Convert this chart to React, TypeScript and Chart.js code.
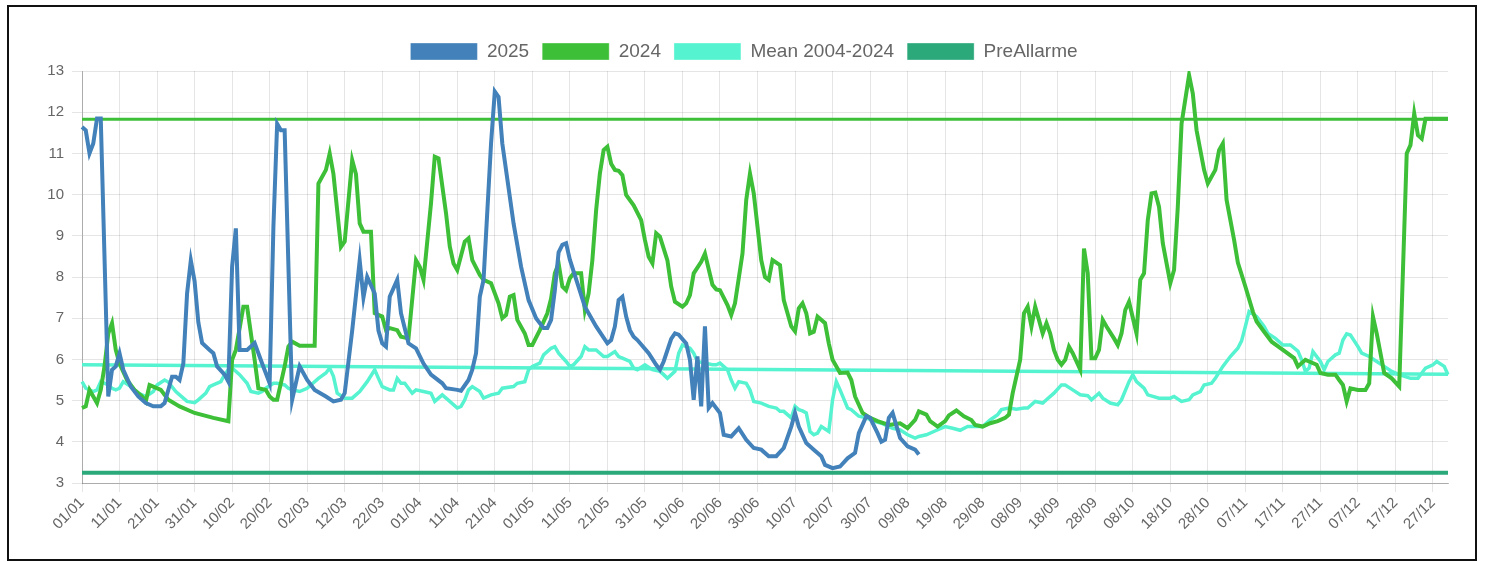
import React, { useEffect, useRef } from "react";
import { Chart, registerables } from "chart.js";

Chart.register(...registerables);

// ---- X categories: every day of a non-leap year, dd/mm ----
const MONTH_LENGTHS = [31, 28, 31, 30, 31, 30, 31, 31, 30, 31, 30, 31];
const dayLabels: string[] = [];
MONTH_LENGTHS.forEach((len, m) => {
  for (let d = 1; d <= len; d++) {
    dayLabels.push(String(d).padStart(2, "0") + "/" + String(m + 1).padStart(2, "0"));
  }
});

// ---- Y ticks ----
const Y_MIN = 3;
const Y_MAX = 13;

// ---- 2025 (day index, value) ----
const days2025 = [0, 1, 2, 3, 4, 5, 7, 8, 9, 10, 11, 13, 15, 17, 19, 21, 22, 24, 25, 26, 27, 28, 29, 30, 31, 32, 34, 35, 36, 38, 39, 40, 41, 42, 44, 46, 48, 50, 51, 52, 53, 54, 56, 58, 60, 62, 65, 67, 69, 70, 72, 74, 75, 76, 78, 79, 80, 81, 82, 84, 85, 87, 89, 91, 93, 96, 97, 100, 101, 103, 104, 105, 106, 107, 109, 110, 111, 112, 114, 115, 117, 119, 121, 123, 124, 125, 126, 127, 128, 129, 130, 132, 134, 137, 140, 141, 142, 143, 144, 145, 146, 147, 148, 151, 153, 154, 155, 157, 158, 159, 161, 162, 163, 164, 165, 166, 167, 168, 170, 171, 173, 175, 177, 179, 181, 183, 185, 187, 189, 190, 191, 193, 195, 197, 198, 200, 202, 204, 206, 207, 209, 210, 212, 213, 214, 215, 216, 218, 220, 222, 223];
const level2025 = [11.64, 11.56, 11.0, 11.24, 11.85, 11.85, 5.1, 5.75, 5.83, 6.15, 5.75, 5.34, 5.1, 4.94, 4.86, 4.86, 4.94, 5.58, 5.58, 5.5, 5.9, 7.6, 8.4, 7.9, 6.9, 6.4, 6.23, 6.15, 5.83, 5.63, 5.46, 8.25, 9.18, 6.23, 6.23, 6.4, 5.9, 5.42, 9.2, 11.72, 11.56, 11.56, 5.02, 5.83, 5.5, 5.26, 5.1, 4.98, 5.02, 5.18, 6.7, 8.4, 7.5, 8.0, 7.6, 6.7, 6.39, 6.31, 7.52, 7.93, 7.12, 6.39, 6.27, 5.9, 5.63, 5.42, 5.3, 5.26, 5.24, 5.5, 5.75, 6.15, 7.52, 7.93, 11.24, 12.5, 12.37, 11.24, 9.95, 9.3, 8.25, 7.44, 7.0, 6.76, 6.76, 6.96, 7.68, 8.6, 8.78, 8.82, 8.42, 7.85, 7.28, 6.8, 6.39, 6.47, 6.8, 7.44, 7.52, 7.04, 6.71, 6.55, 6.47, 6.15, 5.87, 5.75, 5.95, 6.5, 6.63, 6.6, 6.39, 5.99, 5.02, 6.07, 4.86, 6.8, 4.82, 4.94, 4.7, 4.17, 4.13, 4.33, 4.05, 3.85, 3.81, 3.65, 3.65, 3.85, 4.37, 4.7, 4.37, 3.97, 3.81, 3.65, 3.44, 3.36, 3.4, 3.6, 3.73, 4.21, 4.62, 4.58, 4.21, 4.0, 4.05, 4.58, 4.7, 4.09, 3.89, 3.81, 3.69];

// ---- 2024 (day index, value) ----
const days2024 = [0, 1, 2, 3, 4, 5, 6, 7, 8, 9, 10, 12, 14, 16, 17, 18, 19, 21, 23, 26, 30, 35, 39, 40, 41, 43, 44, 46, 47, 49, 50, 51, 52, 54, 55, 56, 58, 62, 63, 65, 66, 67, 69, 70, 72, 73, 74, 75, 77, 78, 80, 81, 82, 84, 85, 87, 89, 90, 91, 93, 94, 95, 97, 98, 99, 100, 102, 103, 104, 106, 107, 109, 111, 112, 113, 114, 115, 116, 118, 119, 120, 122, 124, 125, 126, 127, 128, 129, 130, 131, 133, 134, 135, 136, 137, 138, 139, 140, 141, 142, 143, 144, 145, 147, 149, 150, 151, 152, 153, 154, 156, 157, 158, 160, 161, 162, 163, 165, 166, 168, 169, 170, 172, 173, 174, 176, 177, 178, 179, 181, 182, 183, 184, 186, 187, 189, 190, 191, 192, 193, 194, 195, 196, 198, 199, 200, 202, 204, 205, 206, 208, 210, 212, 215, 218, 220, 222, 223, 225, 226, 228, 230, 231, 233, 235, 237, 238, 240, 242, 244, 246, 247, 248, 250, 251, 252, 253, 254, 255, 256, 257, 258, 259, 260, 261, 262, 263, 264, 266, 267, 268, 269, 270, 271, 272, 273, 275, 276, 277, 278, 279, 281, 282, 283, 284, 285, 286, 287, 288, 290, 291, 292, 293, 295, 296, 297, 299, 300, 302, 303, 304, 305, 307, 308, 310, 312, 313, 315, 317, 320, 323, 324, 326, 327, 329, 330, 332, 334, 335, 336, 337, 338, 340, 342, 343, 344, 345, 346, 347, 349, 351, 353, 354, 355, 356, 357, 358, 364];
const level2024 = [4.82, 4.86, 5.26, 5.1, 4.94, 5.26, 5.83, 6.63, 6.88, 6.23, 5.9, 5.5, 5.26, 5.1, 4.98, 5.38, 5.34, 5.26, 5.02, 4.86, 4.7, 4.58, 4.5, 5.99, 6.23, 7.28, 7.28, 5.99, 5.3, 5.26, 5.1, 5.02, 5.02, 5.83, 6.31, 6.43, 6.33, 6.33, 10.27, 10.6, 11.0, 10.5, 8.73, 8.86, 10.84, 10.5, 9.3, 9.1, 9.1, 7.12, 7.04, 6.71, 6.76, 6.71, 6.55, 6.51, 8.41, 8.25, 7.93, 9.79, 10.92, 10.88, 9.55, 8.74, 8.33, 8.17, 8.86, 8.94, 8.41, 8.05, 7.93, 7.85, 7.36, 7.0, 7.08, 7.52, 7.56, 6.96, 6.63, 6.35, 6.35, 6.71, 7.12, 7.48, 8.09, 8.33, 7.77, 7.68, 7.97, 8.09, 8.09, 7.2, 7.6, 8.41, 9.62, 10.51, 11.08, 11.16, 10.75, 10.6, 10.58, 10.47, 9.99, 9.74, 9.38, 8.9, 8.49, 8.33, 9.06, 8.98, 8.4, 7.77, 7.4, 7.28, 7.36, 7.56, 8.09, 8.37, 8.57, 7.81, 7.7, 7.68, 7.32, 7.08, 7.36, 8.57, 9.87, 10.51, 10.03, 8.41, 8.0, 7.93, 8.41, 8.29, 7.44, 6.8, 6.68, 7.24, 7.36, 7.12, 6.63, 6.67, 7.04, 6.88, 6.39, 5.99, 5.67, 5.68, 5.5, 5.1, 4.7, 4.58, 4.5, 4.41, 4.45, 4.33, 4.53, 4.74, 4.66, 4.5, 4.37, 4.5, 4.64, 4.76, 4.62, 4.53, 4.41, 4.37, 4.45, 4.5, 4.58, 4.66, 5.18, 5.99, 7.12, 7.28, 6.8, 7.28, 6.96, 6.63, 6.88, 6.63, 6.23, 5.99, 5.87, 5.99, 6.31, 6.15, 5.75, 8.69, 8.09, 6.03, 6.03, 6.23, 6.96, 6.8, 6.51, 6.35, 6.63, 7.2, 7.4, 6.63, 7.93, 8.09, 9.38, 10.03, 10.05, 9.7, 8.82, 7.85, 8.17, 9.7, 11.72, 12.9, 12.45, 11.56, 10.6, 10.27, 10.6, 11.08, 11.24, 9.87, 8.9, 8.35, 7.77, 7.16, 6.92, 6.67, 6.43, 6.23, 6.03, 5.83, 5.99, 5.95, 5.87, 5.67, 5.63, 5.63, 5.5, 5.38, 4.98, 5.3, 5.26, 5.26, 5.42, 7.04, 6.63, 6.15, 5.67, 5.54, 5.34, 11.0, 11.2, 11.97, 11.44, 11.36, 11.84, 11.84];

// ---- Mean 2004-2024 (day index, value) ----
const daysMean = [0, 1, 3, 4, 5, 7, 8, 9, 10, 11, 13, 15, 17, 19, 20, 22, 23, 25, 27, 28, 30, 31, 33, 34, 35, 37, 38, 39, 40, 42, 44, 45, 47, 48, 49, 51, 52, 54, 55, 56, 58, 60, 61, 63, 65, 66, 67, 68, 70, 72, 74, 75, 76, 78, 79, 80, 82, 83, 84, 85, 86, 88, 89, 91, 93, 94, 96, 98, 100, 101, 102, 103, 104, 106, 107, 109, 111, 112, 115, 116, 118, 119, 120, 122, 123, 125, 126, 127, 129, 130, 131, 133, 134, 135, 137, 139, 140, 142, 143, 144, 146, 147, 148, 150, 152, 154, 155, 156, 158, 159, 160, 162, 163, 164, 166, 168, 169, 170, 172, 173, 174, 175, 177, 178, 179, 181, 183, 185, 186, 187, 189, 190, 191, 192, 193, 194, 195, 196, 197, 199, 200, 201, 202, 204, 205, 207, 209, 211, 213, 214, 216, 218, 220, 222, 223, 225, 227, 229, 230, 232, 234, 236, 238, 240, 242, 244, 245, 247, 249, 251, 252, 254, 256, 257, 259, 261, 262, 264, 266, 268, 269, 271, 272, 274, 276, 277, 279, 280, 281, 283, 284, 287, 288, 290, 291, 293, 295, 296, 298, 299, 301, 302, 304, 306, 308, 309, 310, 311, 313, 315, 316, 318, 320, 322, 324, 325, 326, 327, 328, 330, 331, 332, 334, 335, 336, 337, 338, 340, 341, 343, 345, 347, 349, 351, 354, 356, 358, 360, 361, 363, 364];
const levelMean = [5.46, 5.3, 5.22, 5.26, 5.46, 5.38, 5.3, 5.26, 5.3, 5.46, 5.34, 5.18, 5.1, 5.22, 5.38, 5.5, 5.45, 5.22, 5.06, 4.98, 4.95, 5.02, 5.18, 5.34, 5.38, 5.46, 5.63, 5.75, 5.79, 5.63, 5.42, 5.22, 5.18, 5.22, 5.3, 5.42, 5.42, 5.38, 5.3, 5.26, 5.22, 5.3, 5.38, 5.54, 5.67, 5.79, 5.59, 5.18, 5.06, 5.06, 5.22, 5.34, 5.46, 5.75, 5.54, 5.34, 5.26, 5.26, 5.54, 5.42, 5.42, 5.18, 5.26, 5.22, 5.18, 4.98, 5.14, 4.98, 4.82, 4.86, 5.02, 5.26, 5.34, 5.22, 5.06, 5.14, 5.18, 5.3, 5.34, 5.42, 5.46, 5.75, 5.83, 5.91, 6.11, 6.27, 6.31, 6.15, 5.95, 5.83, 5.87, 6.07, 6.31, 6.23, 6.23, 6.07, 6.07, 6.19, 6.07, 6.03, 5.95, 5.79, 5.75, 5.87, 5.75, 5.71, 5.63, 5.54, 5.71, 6.15, 6.35, 6.27, 6.15, 5.95, 5.91, 5.87, 5.87, 5.91, 5.75, 5.5, 5.3, 5.46, 5.42, 5.26, 4.98, 4.94, 4.86, 4.82, 4.74, 4.74, 4.58, 4.86, 4.78, 4.75, 4.7, 4.25, 4.17, 4.21, 4.37, 4.25, 5.02, 5.46, 5.26, 4.82, 4.78, 4.62, 4.58, 4.5, 4.45, 4.41, 4.33, 4.29, 4.17, 4.09, 4.13, 4.17, 4.25, 4.33, 4.37, 4.33, 4.28, 4.37, 4.37, 4.37, 4.53, 4.66, 4.78, 4.82, 4.79, 4.82, 4.82, 4.98, 4.94, 5.02, 5.18, 5.38, 5.38, 5.26, 5.14, 5.12, 5.02, 5.18, 5.06, 4.94, 4.9, 5.02, 5.46, 5.63, 5.46, 5.3, 5.14, 5.06, 5.06, 5.06, 5.1, 4.98, 5.02, 5.14, 5.22, 5.38, 5.42, 5.54, 5.83, 6.07, 6.27, 6.45, 6.8, 7.16, 7.04, 6.8, 6.63, 6.51, 6.35, 6.35, 6.2, 5.99, 5.71, 5.79, 6.19, 5.95, 5.75, 5.95, 6.11, 6.15, 6.47, 6.62, 6.59, 6.31, 6.15, 6.07, 5.95, 5.83, 5.71, 5.63, 5.54, 5.54, 5.79, 5.87, 5.95, 5.83, 5.63];

// ---- Straight mean trend (not in legend) ----
const daysMeanTrend = [0, 364];
const levelMeanTrend = [5.87, 5.64];

// ---- Thresholds ----
const daysThreshold = [0, 364];
const levelPreAllarme = [3.25, 3.25];
const levelAllarme = [11.83, 11.83];

const COLOR_2025 = "#4281B9";
const COLOR_2024 = "#3DBF38";
const COLOR_MEAN = "#56F3D0";
const COLOR_PRE = "#2BA97B";

function toSeries(days: number[], vals: number[]): (number | null)[] {
  const out: (number | null)[] = new Array(dayLabels.length).fill(null);
  days.forEach((d, i) => {
    out[d] = vals[i];
  });
  return out;
}

const FONT = "'Liberation Sans', Arial, Helvetica, sans-serif";

export default function App() {
  const ref = useRef<HTMLCanvasElement | null>(null);

  useEffect(() => {
    document.body.style.margin = "0";
    document.body.style.background = "#fff";
    if (!ref.current) return;
    const line = (label: string, days: number[], vals: number[], color: string, width: number) => ({
      label,
      data: toSeries(days, vals),
      borderColor: color,
      backgroundColor: color,
      borderWidth: width,
      pointRadius: 0,
      pointHoverRadius: 0,
      tension: 0,
      spanGaps: true,
      fill: false,
    });
    const chart = new Chart(ref.current, {
      type: "line",
      data: {
        labels: dayLabels,
        datasets: [
          line("2025", days2025, level2025, COLOR_2025, 4),
          line("2024", days2024, level2024, COLOR_2024, 4),
          line("Mean 2004-2024", daysMean, levelMean, COLOR_MEAN, 3.5),
          line("PreAllarme", daysThreshold, levelPreAllarme, COLOR_PRE, 4),
          line("Allarme", daysThreshold, levelAllarme, COLOR_2024, 3),
          line("Mean trend", daysMeanTrend, levelMeanTrend, COLOR_MEAN, 3.5),
        ],
      },
      options: {
        animation: false,
        responsive: false,
        devicePixelRatio: 1,
        layout: { padding: { top: 22, left: 31, right: 27, bottom: 0 } },
        plugins: {
          tooltip: { enabled: false },
          legend: {
            position: "top",
            labels: {
              boxWidth: 67,
              boxHeight: 17,
              padding: 13,
              color: "#666",
              font: { family: FONT, size: 19 },
              filter: (item: any) => item.datasetIndex < 4,
              generateLabels: (chart: any) =>
                (Chart.defaults.plugins.legend.labels as any)
                  .generateLabels(chart)
                  .map((l: any) => ({ ...l, lineWidth: 1, strokeStyle: "rgba(255,255,255,0.35)" })),
            },
          },
        },
        scales: {
          x: {
            type: "category",
            grid: { color: "rgba(0,0,0,0.1)", tickLength: 9 },
            border: { color: "rgba(0,0,0,0.25)" },
            afterFit: (scale: any) => {
              scale.height = 76;
            },
            ticks: {
              autoSkip: false,
              minRotation: 45,
              maxRotation: 45,
              padding: 2,
              color: "#666",
              font: { family: FONT, size: 15 },
              callback: (_v: any, i: number) => (i % 10 === 0 ? dayLabels[i] : null),
            },
          },
          y: {
            min: Y_MIN,
            max: Y_MAX,
            grid: { color: "rgba(0,0,0,0.1)", tickLength: 10 },
            border: { color: "rgba(0,0,0,0.25)" },
            afterFit: (scale: any) => {
              scale.width = 42;
            },
            ticks: {
              stepSize: 1,
              padding: 8,
              color: "#666",
              font: { family: FONT, size: 15 },
            },
          },
        },
      },
    } as any);
    return () => chart.destroy();
  }, []);

  return (
    <div
      style={{
        position: "absolute",
        left: 7,
        top: 5,
        width: 1470,
        height: 556,
        boxSizing: "border-box",
        border: "2px solid #111",
        background: "#fff",
      }}
    >
      <canvas ref={ref} width={1466} height={552} style={{ display: "block", width: 1466, height: 552 }} />
    </div>
  );
}
